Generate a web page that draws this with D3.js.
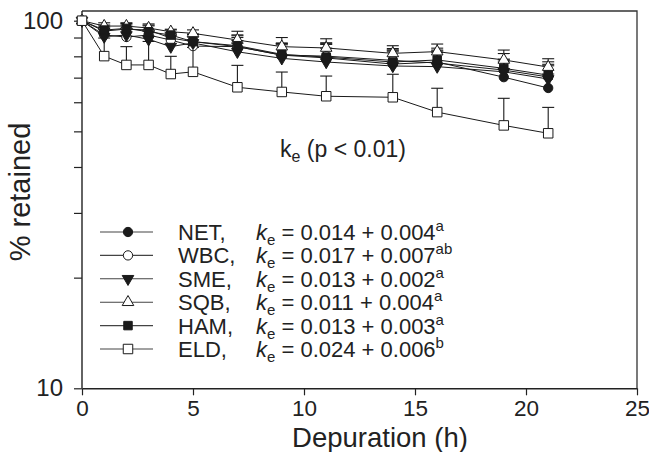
<!DOCTYPE html>
<html><head><meta charset="utf-8">
<script src="https://cdn.jsdelivr.net/npm/d3@7/dist/d3.min.js"></script>
<style>
html,body{margin:0;padding:0;background:#fff;}
text{font-family:"Liberation Sans",Arial,Helvetica,sans-serif;fill:#222;}
</style></head>
<body>
<svg id="chart" width="649" height="452"></svg>
<script>
// ---- data ----
const times = [0, 1, 2, 3, 4, 5, 7, 9, 11, 14, 16, 19, 21];
const seriesNames = ["NET", "WBC", "SME", "SQB", "HAM", "ELD"];
const NET = [100, 93.7, 94.9, 94.3, 89.7, 87.7, 85.0, 80.6, 79.2, 76.2, 77.2, 70.2, 65.6];
const WBC = [100, 91.4, 90.3, 91.4, 88.6, 85.3, 85.0, 80.6, 80.1, 78.0, 76.7, 73.4, 70.3];
const SME = [100, 90.5, 91.4, 89.0, 85.0, 87.0, 82.3, 79.0, 77.2, 75.3, 75.0, 72.6, 69.4];
const SQB = [100, 96.7, 96.7, 95.5, 93.3, 92.4, 88.6, 85.0, 84.3, 81.5, 82.4, 78.2, 74.8];
const HAM = [100, 94.3, 95.3, 93.3, 91.4, 87.7, 85.5, 81.0, 79.6, 77.2, 78.2, 74.2, 71.1];
const ELD = [100, 80.1, 75.8, 75.8, 71.6, 72.6, 65.9, 64.0, 62.3, 61.9, 56.4, 51.9, 49.4];
const NET_sd = [0, 2.5, 2.5, 2.5, 3, 4, 6, 6, 7, 7, 6, 7, 6];
const WBC_sd = [0, 4, 5, 3, 4, 5, 5, 6, 7, 6, 6, 8, 7];
const SME_sd = [0, 4, 4, 5, 6, 5, 6, 7, 7, 7, 7, 6, 6];
const SQB_sd = [0, 2, 2, 2.5, 1.5, 2, 5, 5, 5, 4, 4, 5, 4];
const HAM_sd = [0, 3, 3, 4, 3, 4, 6, 6, 7, 6, 6, 4, 5];
const ELD_sd = [0, 9.6, 9.2, 12, 8.4, 12, 9.7, 8.5, 8.4, 9.6, 9.1, 9.6, 8.7];
const keValues = ["0.014 + 0.004", "0.017 + 0.007", "0.013 + 0.002", "0.011 + 0.004", "0.013 + 0.003", "0.024 + 0.006"];
const keLetters = ["a", "ab", "a", "a", "a", "b"];
const xTicks = [0, 5, 10, 15, 20, 25];
const yLabelTicks = [10, 100];
const yMinorTicks = [20, 30, 40, 50, 60, 70, 80, 90];
const xTitle = "Depuration (h)";
const yTitle = "% retained";
const annotation = ["k", "e", " (p < 0.01)"];

const means = [NET, WBC, SME, SQB, HAM, ELD];
const sds = [NET_sd, WBC_sd, SME_sd, SQB_sd, HAM_sd, ELD_sd];

// ---- layout ----
const svg = d3.select("#chart");
const pLeft = 82, pRight = 637, pTop = 11, pBottom = 388.3, y100 = 20.7;
const x = d3.scaleLinear().domain([0, 25]).range([pLeft, pRight]);
const y = d3.scaleLog().domain([10, 100]).range([pBottom, y100]);

const ink = "#1a1a1a";

// frame (top and right)
svg.append("path")
  .attr("d", `M${pLeft},${pTop}H${pRight}V${pBottom}`)
  .attr("fill", "none").attr("stroke", "#333").attr("stroke-width", 1.3);

// axes
const xAxis = svg.append("g").attr("transform", `translate(0,${pBottom})`)
  .call(d3.axisBottom(x).tickValues(xTicks).tickSize(7).tickPadding(5).tickSizeOuter(0));
const yAxis = svg.append("g").attr("transform", `translate(${pLeft},0)`)
  .call(d3.axisLeft(y).tickValues(yLabelTicks.concat(yMinorTicks))
    .tickSize(8).tickPadding(11).tickSizeOuter(0)
    .tickFormat(d => yLabelTicks.includes(d) ? d3.format("d")(d) : ""));
yAxis.select(".domain").attr("d", `M0,${pTop}V${pBottom}`);
[xAxis, yAxis].forEach(g => {
  g.select(".domain").attr("stroke", "#222").attr("stroke-width", 1.4);
  g.selectAll(".tick line").attr("stroke", "#222").attr("stroke-width", 1.2);
  g.selectAll(".tick text").attr("font-size", 22.5).attr("fill", "#222")
    .attr("font-family", '"Liberation Sans",Arial,sans-serif');
});
xAxis.selectAll(".tick text").attr("dy", "0.7em");
yAxis.selectAll(".tick text").attr("font-size", 24);

// titles
svg.append("text").attr("x", 380).attr("y", 447).attr("text-anchor", "middle")
  .attr("font-size", 27.5).text(xTitle);
svg.append("text").attr("transform", "translate(30,192) rotate(-90)")
  .attr("text-anchor", "middle").attr("font-size", 29).text(yTitle);

// annotation
const ann = svg.append("text").attr("x", 280).attr("y", 157).attr("font-size", 23);
ann.append("tspan").text(annotation[0]);
ann.append("tspan").attr("font-size", 16).attr("dy", 5).text(annotation[1]);
ann.append("tspan").attr("dy", -5).text(annotation[2]);

// symbols
const symbolFor = [
  {type: d3.symbolCircle, size: 68, fill: ink, rot: 0},
  {type: d3.symbolCircle, size: 68, fill: "#fff", rot: 0},
  {type: d3.symbolTriangle, size: 58, fill: ink, rot: 180},
  {type: d3.symbolTriangle, size: 58, fill: "#fff", rot: 0},
  {type: d3.symbolSquare, size: 72, fill: ink, rot: 0},
  {type: d3.symbolSquare, size: 90, fill: "#fff", rot: 0}
];

const line = d3.line().x(d => x(d[0])).y(d => y(d[1]));

// lines
means.forEach((m, i) => {
  svg.append("path").datum(times.map((t, j) => [t, m[j]]))
    .attr("d", line).attr("fill", "none").attr("stroke", ink).attr("stroke-width", 1);
});

// error bars (upward)
means.forEach((m, i) => {
  const g = svg.append("g").attr("stroke", ink).attr("stroke-width", 1.1);
  times.forEach((t, j) => {
    if (!sds[i][j]) return;
    const yt = y(m[j] + sds[i][j]);
    g.append("line").attr("x1", x(t)).attr("x2", x(t)).attr("y1", y(m[j])).attr("y2", yt);
    g.append("line").attr("x1", x(t) - 6).attr("x2", x(t) + 6).attr("y1", yt).attr("y2", yt);
  });
});

// markers
means.forEach((m, i) => {
  const s = symbolFor[i];
  const sym = d3.symbol().type(s.type).size(s.size);
  svg.append("g").selectAll("path").data(times.map((t, j) => [t, m[j]])).join("path")
    .attr("d", sym)
    .attr("transform", d => `translate(${x(d[0])},${y(d[1])}) rotate(${s.rot})`)
    .attr("fill", s.fill).attr("stroke", ink).attr("stroke-width", 1);
});

// legend
const legY0 = 232, legDy = 23.4;
seriesNames.forEach((name, i) => {
  const cy = legY0 + i * legDy;
  const s = symbolFor[i];
  svg.append("line").attr("x1", 100).attr("x2", 153).attr("y1", cy).attr("y2", cy)
    .attr("stroke", "#444").attr("stroke-width", 1.1);
  svg.append("path").attr("d", d3.symbol().type(s.type).size(s.size))
    .attr("transform", `translate(128,${cy}) rotate(${s.rot})`)
    .attr("fill", s.fill).attr("stroke", ink).attr("stroke-width", 1);
  const base = cy + 8;
  const nameT = svg.append("text").attr("x", 178).attr("y", base).attr("font-size", 22).text(name + ",");
  const w = nameT.node().getComputedTextLength();
  const kx = Math.max(256, 178 + w + 8);
  const t = svg.append("text").attr("x", kx).attr("y", base).attr("font-size", 22);
  t.append("tspan").attr("font-style", "italic").text("k");
  t.append("tspan").attr("font-size", 15).attr("dy", 5).text("e");
  t.append("tspan").attr("dy", -5).text(" = " + keValues[i]);
  t.append("tspan").attr("font-size", 15).attr("dy", -9).text(keLetters[i]);
});
</script>
</body></html>
